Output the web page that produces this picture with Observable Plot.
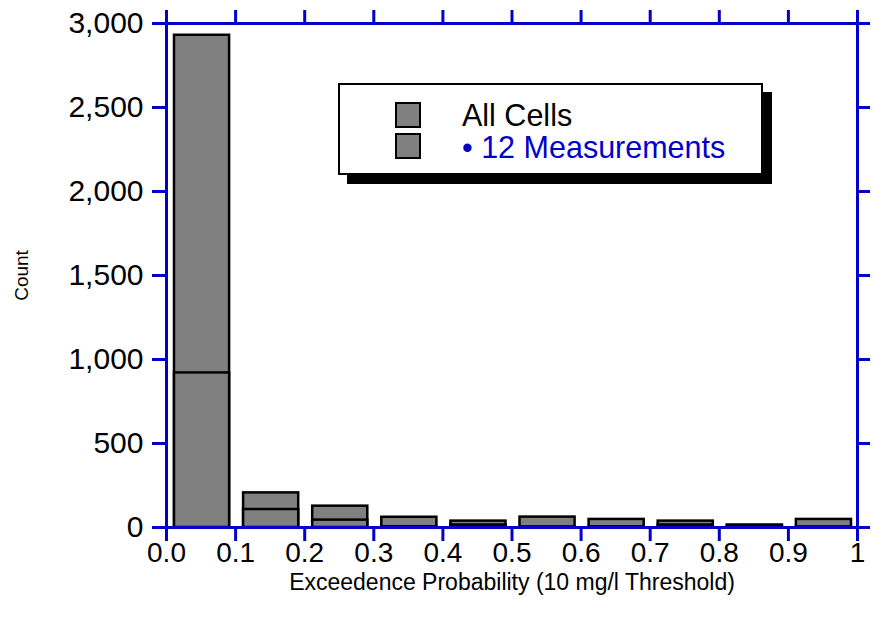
<!DOCTYPE html>
<html><head><meta charset="utf-8">
<script src="https://cdn.jsdelivr.net/npm/d3@7"></script>
<script src="https://cdn.jsdelivr.net/npm/@observablehq/plot@0.6"></script>
<style>
body{margin:0;background:#fff;font-family:"Liberation Sans",Arial,sans-serif;}
#wrap{position:relative;width:873px;height:622px;}
#legend{position:absolute;left:338px;top:83px;width:421px;height:88px;border:2px solid #000;background:#fff;box-shadow:9px 9px 0 #000;}
.sw{position:absolute;left:55px;width:22px;height:22px;background:#808080;border:2px solid #000;}
.lt{position:absolute;left:122px;font-size:30.5px;line-height:26px;white-space:nowrap;}
</style></head><body><div id="wrap"></div>
<script>
const binStarts = [0.0, 0.1, 0.2, 0.3, 0.4, 0.5, 0.6, 0.7, 0.8, 0.9];
const binEnds   = [0.1, 0.2, 0.3, 0.4, 0.5, 0.6, 0.7, 0.8, 0.9, 1.0];
const allCells       = [2930, 206, 127, 61, 38, 62, 48, 38, 15, 48];
const measurements12 = [920, 107, 44, 4, 15, 3, 4, 15, 10, 3];
const xTicks = [0, 0.1, 0.2, 0.3, 0.4, 0.5, 0.6, 0.7, 0.8, 0.9, 1];
const xTickLabels = ["0.0", "0.1", "0.2", "0.3", "0.4", "0.5", "0.6", "0.7", "0.8", "0.9", "1"];
const yTicks = [0, 500, 1000, 1500, 2000, 2500, 3000];
const seriesNames = ["All Cells", "• 12 Measurements"];
const xTitle = "Exceedence Probability (10 mg/l Threshold)";
const yTitle = "Count";

const rows = binStarts.map((s, i) => ({x1: s, x2: binEnds[i], all: allCells[i], m12: measurements12[i]}));
const blue = "#0000cc";
const barStyle = {x1: "x1", x2: "x2", fill: "#808080", stroke: "#000", strokeWidth: 2.5, insetLeft: 8, insetRight: 6};

const chart = Plot.plot({
  width: 873, height: 622,
  marginLeft: 166, marginRight: 16, marginTop: 23, marginBottom: 95,
  style: {fontFamily: "'Liberation Sans', Arial, sans-serif", background: "#fff", color: "#000"},
  x: {domain: [0, 1]},
  y: {domain: [0, 3000]},
  marks: [
    Plot.rectY(rows, {...barStyle, y: "all"}),
    Plot.rectY(rows, {...barStyle, y: "m12"}),
    Plot.frame({stroke: blue, strokeWidth: 3}),
    Plot.axisX({anchor: "bottom", ticks: xTicks, tickFormat: (d, i) => xTickLabels[i], tickSize: 14, tickPadding: 1, stroke: blue, strokeWidth: 3, fill: "#000", fontSize: 28, label: null}),
    Plot.axisX({anchor: "top", ticks: xTicks, tickFormat: () => "", tickSize: 14, stroke: blue, strokeWidth: 3, label: null}),
    Plot.axisY({anchor: "left", ticks: yTicks, tickFormat: d3.format(","), tickSize: 14, tickPadding: 9, stroke: blue, strokeWidth: 3, fill: "#000", fontSize: 30, label: null}),
    Plot.axisY({anchor: "right", ticks: yTicks, tickFormat: () => "", tickSize: 12, stroke: blue, strokeWidth: 3, label: null}),
    Plot.text([xTitle], {frameAnchor: "bottom", lineAnchor: "middle", dy: 55, fontSize: 23, fill: "#000"}),
    Plot.text([yTitle], {frameAnchor: "left", textAnchor: "middle", rotate: -90, dx: -145, fontSize: 19, fill: "#000"})
  ]
});
const wrap = document.getElementById("wrap");
wrap.appendChild(chart);
const legend = document.createElement("div");
legend.id = "legend";
legend.innerHTML = `
  <div class="sw" style="top:17px"></div>
  <div class="sw" style="top:48px"></div>
  <div class="lt" style="top:17px;color:#000">${seriesNames[0]}</div>
  <div class="lt" style="top:49px;color:${blue}">${seriesNames[1]}</div>`;
wrap.appendChild(legend);
</script>
</body></html>
